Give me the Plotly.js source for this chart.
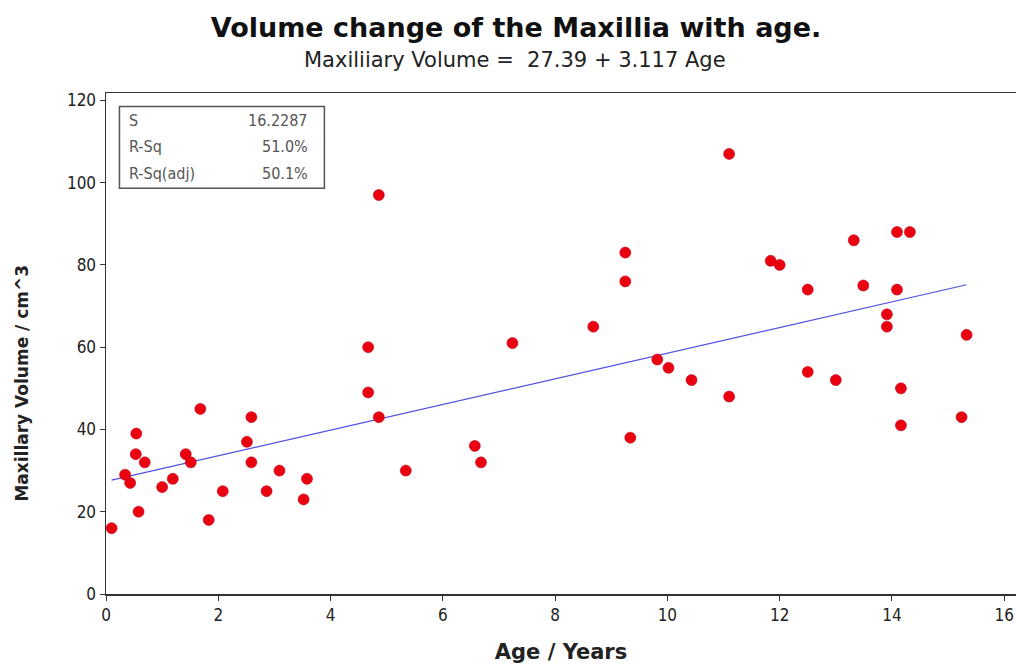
<!DOCTYPE html>
<html>
<head>
<meta charset="utf-8">
<script src="https://cdn.plot.ly/plotly-3.0.1.min.js"></script>
<style>
  html, body { margin: 0; padding: 0; background: #fff; }
  #chart { width: 1016px; height: 670px; }
</style>
</head>
<body>
<div id="chart"></div>
<script>
// Age (years) and maxillary volume (cm^3) for each subject
const ageYears = [
  0.10, 0.34, 0.43, 0.53, 0.54, 0.58, 0.69, 1.00, 1.19, 1.42,
  1.51, 1.68, 1.83, 2.08, 2.51, 2.59, 2.59, 2.86, 3.09, 3.52,
  3.58, 4.67, 4.67, 4.86, 4.86, 5.34, 6.57, 6.68, 7.24, 8.68,
  9.25, 9.25, 9.34, 9.82, 10.02, 10.43, 11.10, 11.10, 11.84, 12.00,
  12.50, 12.50, 13.00, 13.32, 13.49, 13.91, 13.91, 14.09, 14.32, 14.09,
  14.16, 14.16, 15.24, 15.33
];
const volume = [
  16.0, 29.0, 27.0, 34.0, 39.0, 20.0, 32.0, 26.0, 28.0, 34.0,
  32.0, 45.0, 18.0, 25.0, 37.0, 43.0, 32.0, 25.0, 30.0, 23.0,
  28.0, 60.0, 49.0, 43.0, 97.0, 30.0, 36.0, 32.0, 61.0, 65.0,
  83.0, 76.0, 38.0, 57.0, 55.0, 52.0, 107.0, 48.0, 81.0, 80.0,
  74.0, 54.0, 52.0, 86.0, 75.0, 68.0, 65.0, 88.0, 88.0, 74.0,
  50.0, 41.0, 43.0, 63.0
];

// Fitted regression: Volume = 27.39 + 3.117 Age
const fitIntercept = 27.39;
const fitSlope = 3.117;

// Summary statistics of the fit
const statNames = ["S", "R-Sq", "R-Sq(adj)"];
const statValues = ["16.2287", "51.0%", "50.1%"];

// Axis ticks
const xTicks = [0, 2, 4, 6, 8, 10, 12, 14, 16];
const yTicks = [0, 20, 40, 60, 80, 100, 120];

const fitX = [Math.min(...ageYears), Math.max(...ageYears)];
const fitY = fitX.map(a => fitIntercept + fitSlope * a);

const FONT = "DejaVu Sans, Verdana, sans-serif";
const FONT_NARROW = "DejaVu Sans Condensed, DejaVu Sans, sans-serif";

const traces = [
  {
    type: "scatter",
    mode: "lines",
    x: fitX,
    y: fitY,
    line: { color: "rgb(80,80,225)", width: 1.2 },
    hoverinfo: "skip",
    showlegend: false
  },
  {
    type: "scatter",
    mode: "markers",
    x: ageYears,
    y: volume,
    marker: {
      color: "rgb(235,0,16)",
      size: 11,
      line: { color: "rgb(190,0,20)", width: 0.6 }
    },
    showlegend: false
  }
];

// Stats box rows
const rowY = [0.946, 0.893, 0.840];
const annotations = [
  {
    // regression equation under the main title
    text: "Maxiliiary Volume =  27.39 + 3.117 Age",
    xref: "paper", yref: "paper",
    x: 0.449, y: 1.0, yanchor: "middle", yshift: 33,
    showarrow: false,
    font: { family: FONT, size: 21, color: "#222" }
  },
  {
    // vertical axis title, set a little below the plot centre
    text: "<b>Maxillary Volume / cm^3</b>",
    xref: "paper", yref: "paper",
    x: 0, xshift: -84, y: 0.42,
    xanchor: "center", yanchor: "middle",
    textangle: -90,
    showarrow: false,
    font: { family: FONT, size: 17, color: "#222" }
  }
];
statNames.forEach((name, i) => {
  annotations.push({
    text: name, xref: "paper", yref: "paper",
    x: 0.0236, y: rowY[i], xanchor: "left", yanchor: "middle",
    showarrow: false,
    font: { family: FONT_NARROW, size: 16, color: "#555" }
  });
  annotations.push({
    text: statValues[i], xref: "paper", yref: "paper",
    x: 0.2237, y: rowY[i], xanchor: "right", yanchor: "middle",
    showarrow: false,
    font: { family: FONT_NARROW, size: 16, color: "#555" }
  });
});

const layout = {
  width: 1016,
  height: 670,
  paper_bgcolor: "#fff",
  plot_bgcolor: "#fff",
  margin: { l: 106, r: 0, t: 93, b: 76 },
  title: {
    text: "<b>Volume change of the Maxillia with age.</b>",
    font: { family: FONT, size: 27, color: "#111" },
    x: 516 / 1016, xref: "container", xanchor: "center",
    y: 1 - 28 / 670, yref: "container", yanchor: "middle"
  },
  xaxis: {
    range: [0, 16.21],
    tickvals: xTicks,
    ticks: "outside",
    ticklen: 5,
    tickwidth: 1,
    tickcolor: "#333",
    showline: true,
    linecolor: "#333",
    linewidth: 1.5,
    mirror: true,
    showgrid: false,
    zeroline: false,
    tickfont: { family: FONT_NARROW, size: 17, color: "#222" },
    title: {
      text: "<b>Age / Years</b>",
      font: { family: FONT, size: 21, color: "#222" },
      standoff: 20
    }
  },
  yaxis: {
    range: [0, 121.8],
    tickvals: yTicks,
    ticks: "outside",
    ticklen: 5,
    tickwidth: 1,
    tickcolor: "#333",
    showline: true,
    linecolor: "#333",
    linewidth: 1.5,
    mirror: false,
    showgrid: false,
    zeroline: false,
    tickfont: { family: FONT_NARROW, size: 17, color: "#222" }
  },
  shapes: [
    {
      type: "rect", xref: "paper", yref: "paper",
      x0: 0.0148, x1: 0.240, y0: 0.810, y1: 0.973,
      line: { color: "#555", width: 1.5 },
      fillcolor: "rgba(0,0,0,0)"
    }
  ],
  annotations: annotations
};

Plotly.newPlot("chart", traces, layout, { displayModeBar: false, staticPlot: true });
</script>
</body>
</html>
